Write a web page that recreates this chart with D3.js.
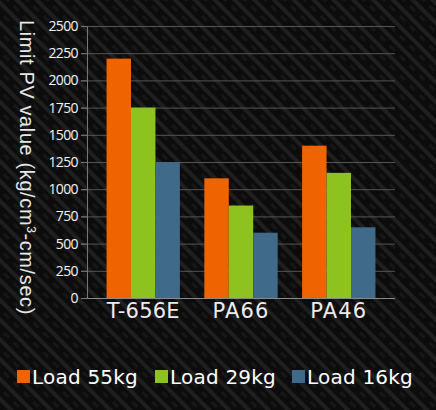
<!DOCTYPE html>
<html>
<head>
<meta charset="utf-8">
<script src="https://cdn.jsdelivr.net/npm/d3@7"></script>
<style>
  html, body { margin: 0; padding: 0; background: #0d0d0d; }
  svg { display: block; }
</style>
</head>
<body>
<svg id="chart"></svg>
<script>
var categories = ["T-656E", "PA66", "PA46"];
var seriesNames = ["Load 55kg", "Load 29kg", "Load 16kg"];
var load55 = [2200, 1100, 1400];
var load29 = [1750, 850, 1150];
var load16 = [1250, 600, 650];
var yTicks = [0, 250, 500, 750, 1000, 1250, 1500, 1750, 2000, 2250, 2500];
var colors = ["#f06400", "#8dc21f", "#3f6a89"];

var W = 436, H = 410;
var margin = {top: 26, right: 41, bottom: 112, left: 87};
var width = W - margin.left - margin.right,
    height = H - margin.top - margin.bottom;

var svg = d3.select("#chart").attr("width", W).attr("height", H);

// stretch text to a wanted width by letter-spacing
function fitWidth(sel, target) {
  sel.each(function() {
    var n = this.getNumberOfChars();
    var w = this.getComputedTextLength();
    d3.select(this).style("letter-spacing", ((target - w) / n) + "px");
  });
}

// carbon-fibre background
var defs = svg.append("defs");
var pat = defs.append("pattern")
    .attr("id", "carbon")
    .attr("patternUnits", "userSpaceOnUse")
    .attr("width", 14).attr("height", 14)
    .attr("patternTransform", "rotate(45)");
pat.append("rect").attr("width", 14).attr("height", 14).attr("fill", "#0c0c0c");
pat.append("rect").attr("x", 0).attr("y", 0).attr("width", 14).attr("height", 4).attr("fill", "#1f1f1f");
pat.append("rect").attr("x", 0).attr("y", 7).attr("width", 7).attr("height", 3).attr("fill", "#171717");
svg.append("rect").attr("width", W).attr("height", H).attr("fill", "url(#carbon)");

var g = svg.append("g").attr("transform", "translate(" + margin.left + "," + margin.top + ")");

var x0 = d3.scaleBand().domain(categories).range([0, width]).paddingInner(0.25).paddingOuter(0.2);
var x1 = d3.scaleBand().domain(seriesNames).range([0, x0.bandwidth()]);
var y = d3.scaleLinear().domain([0, 2500]).range([height, 0]);
var z = d3.scaleOrdinal().domain(seriesNames).range(colors);

var data = categories.map(function(c, i) {
  return {cat: c, values: [load55[i], load29[i], load16[i]].map(function(v, j) {
    return {key: seriesNames[j], value: v};
  })};
});

// gridlines
g.append("g")
  .selectAll("line")
  .data(yTicks.slice(1))
  .enter().append("line")
    .attr("x1", -6).attr("x2", width)
    .attr("y1", function(d) { return y(d) + 0.5; })
    .attr("y2", function(d) { return y(d) + 0.5; })
    .attr("stroke", "#555")
    .attr("stroke-width", 1);

// y axis
var yAxis = d3.axisLeft(y).tickValues(yTicks).tickFormat(d3.format("d")).tickSize(6).tickPadding(3);
var yGroup = g.append("g").call(yAxis);
yGroup.select(".domain").attr("stroke", "#777");
yGroup.selectAll(".tick line").attr("stroke", "#777");
yGroup.selectAll(".tick text")
  .attr("fill", "#f2f2f2")
  .style("font-family", "'Open Sans', sans-serif")
  .style("font-size", "14px")
  .style("letter-spacing", "-0.6px");

// bars
var grp = g.selectAll(".cat")
  .data(data)
  .enter().append("g")
    .attr("class", "cat")
    .attr("transform", function(d) { return "translate(" + x0(d.cat) + ",0)"; });

grp.selectAll("rect")
  .data(function(d) { return d.values; })
  .enter().append("rect")
    .attr("x", function(d) { return x1(d.key); })
    .attr("width", x1.bandwidth())
    .attr("y", function(d) { return y(d.value); })
    .attr("height", function(d) { return height - y(d.value); })
    .attr("fill", function(d) { return z(d.key); });

// baseline
g.append("line")
  .attr("x1", 0).attr("x2", width)
  .attr("y1", height + 0.5).attr("y2", height + 0.5)
  .attr("stroke", "#8a8a8a");

// x axis labels
var xAxis = d3.axisBottom(x0).tickSize(0).tickPadding(5);
var xGroup = g.append("g").attr("transform", "translate(0," + height + ")").call(xAxis);
xGroup.select(".domain").remove();
var xText = xGroup.selectAll(".tick text")
  .attr("fill", "#ececec")
  .style("font-family", "'DejaVu Sans', sans-serif")
  .style("font-size", "21px");
var xWidths = [73, 57, 57];
xText.each(function(d, i) { fitWidth(d3.select(this), xWidths[i]); });

// y title
var title = svg.append("text")
  .attr("transform", "translate(20,20) rotate(90)")
  .attr("fill", "#e8e8e8")
  .style("font-family", "'Liberation Sans', sans-serif")
  .style("font-size", "20px")
  .html("Limit PV value (kg/cm<tspan dy='-7' font-size='12'>3</tspan><tspan dy='7'>-cm/sec)</tspan>");
fitWidth(title, 295);

// legend
var legendX = [17, 155, 292];
var legend = svg.append("g").selectAll("g")
  .data(seriesNames)
  .enter().append("g")
    .attr("transform", function(d, i) { return "translate(" + legendX[i] + ",370)"; });
legend.append("rect")
  .attr("width", 13).attr("height", 13)
  .attr("fill", function(d) { return z(d); });
legend.append("text")
  .attr("x", 15).attr("y", 13.5)
  .attr("fill", "#ffffff")
  .style("font-family", "'DejaVu Sans', sans-serif")
  .style("font-size", "20px")
  .text(function(d) { return d; })
  .call(fitWidth, 106);
</script>
</body>
</html>
